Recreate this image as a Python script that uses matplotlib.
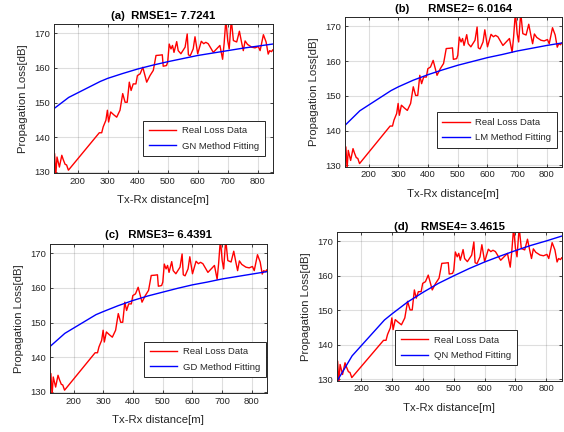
import matplotlib
matplotlib.use("Agg")
import matplotlib.pyplot as plt

plt.rcParams['font.family'] = ['Liberation Sans', 'DejaVu Sans']

# Measured path loss data (shared by all panels)
dist = [120, 123, 127, 131, 139, 147, 152, 158, 163, 169,
        272, 280, 285, 294, 299, 303, 310, 320, 330, 341,
        350, 358, 365, 372, 378, 385, 394, 399, 408, 417,
        430, 441, 452, 461, 474, 482, 485, 496, 500, 505,
        511, 516, 521, 530, 535, 544, 558, 565, 569, 575,
        585, 591, 600, 612, 620, 627, 635, 652, 674, 683,
        688, 694, 700, 705, 712, 719, 730, 739, 746, 752,
        758, 766, 780, 791, 802, 808, 819, 828, 835, 840,
        846, 850]
loss = [131.4, 135.3, 129.0, 134.3, 131.4, 134.8, 133.5, 132.2, 132.0, 130.5,
        141.3, 141.3, 143.0, 144.9, 147.8, 144.4, 147.3, 146.5, 145.8, 147.8,
        152.6, 150.1, 150.1, 155.9, 153.5, 155.4, 155.4, 157.8, 158.3, 160.2,
        155.9, 157.8, 159.3, 163.6, 163.7, 163.8, 160.5, 160.7, 161.7, 166.9,
        165.5, 166.5, 164.5, 167.6, 165.0, 164.1, 166.0, 169.8, 163.8, 163.5,
        165.5, 169.0, 164.1, 167.7, 167.0, 167.4, 167.0, 164.5, 166.5, 162.5,
        167.0, 174.0, 167.9, 165.5, 174.0, 167.9, 167.5, 170.6, 167.5, 165.0,
        167.8, 166.8, 166.0, 165.8, 166.2, 165.0, 169.6, 167.5, 164.0, 165.0,
        164.7, 165.2]

# Fitted curves
fit_x = [120, 170, 275, 300, 350, 400, 450, 500, 550, 600, 650, 700, 750, 800, 850]
fit_gn = [148.2, 151.5, 156.1, 157.0, 158.4, 159.7, 160.8, 161.8, 162.7, 163.6, 164.3, 165.0, 165.7, 166.3, 166.9]
fit_lm = [141.5, 145.7, 151.5, 152.6, 154.5, 156.1, 157.5, 158.8, 159.9, 161.0, 161.9, 162.9, 163.7, 164.5, 165.2]
fit_gd = [143.1, 146.9, 152.3, 153.2, 154.9, 156.4, 157.7, 158.8, 159.9, 160.9, 161.7, 162.6, 163.3, 164.0, 164.7]
fit_qn = [129.3, 136.8, 147.2, 149.0, 152.4, 155.2, 157.8, 160.0, 162.1, 164.0, 165.7, 167.3, 168.8, 170.1, 171.5]

titles = ["(a)  RMSE1= 7.7241", "(b)      RMSE2= 6.0164",
          "(c)   RMSE3= 6.4391", "(d)    RMSE4= 3.4615"]
fit_labels = ["GN Method Fitting", "LM Method Fitting",
              "GD Method Fitting", "QN Method Fitting"]
fits = [fit_gn, fit_lm, fit_gd, fit_qn]

W, H = 564, 432
# axes boxes in pixels: left, top, right, bottom
boxes = [(53.7, 24.3, 272.7, 173.3),
         (345.0, 17.3, 561.7, 166.7),
         (50.0, 244.3, 266.7, 393.3),
         (336.7, 232.3, 561.7, 380.7)]
legend_pos = [(143, 120.7), (436.7, 112.3), (144.3, 341.7), (395, 330)]
title_pads = [4.0, 4.0, 4.5, 2.0]

fig = plt.figure(figsize=(W / 100, H / 100), dpi=100)
for i in range(4):
    l, t, r, b = boxes[i]
    ax = fig.add_axes([l / W, 1 - b / H, (r - l) / W, (b - t) / H])
    ax.plot(dist, loss, color='red', lw=1.0, label='Real Loss Data')
    ax.plot(fit_x, fits[i], color='blue', lw=1.0, label=fit_labels[i])
    ax.set_xlim(120, 850)
    ax.set_ylim(129.6, 172.6)
    ax.set_xticks([200, 300, 400, 500, 600, 700, 800])
    ax.set_yticks([130, 140, 150, 160, 170])
    ax.grid(True, color='#262626', alpha=0.15, lw=0.8)
    ax.set_axisbelow(True)
    ax.tick_params(direction='in', length=2.5, width=0.6, labelsize=6.8,
                   colors='#262626', top=True, right=True, pad=2.5)
    for s in ax.spines.values():
        s.set_color('#262626')
        s.set_linewidth(0.7)
    ax.set_xlabel('Tx-Rx distance[m]', fontsize=8.2, color='#262626', labelpad=7)
    ax.set_ylabel('Propagation Loss[dB]', fontsize=8.2, color='#262626', labelpad=4.5)
    ax.set_title(titles[i], fontsize=8.2, fontweight='bold', pad=title_pads[i])
    lx, ly = legend_pos[i]
    leg = ax.legend(loc='upper left', bbox_to_anchor=(lx / W, 1 - ly / H),
                    bbox_transform=fig.transFigure, borderaxespad=0,
                    fontsize=6.8, fancybox=False, framealpha=1,
                    edgecolor='#262626', handlelength=2.9, handletextpad=0.6,
                    borderpad=0.6, labelspacing=0.65)
    leg.get_frame().set_linewidth(0.7)
    for txt in leg.get_texts():
        txt.set_color('#262626')

fig.savefig('out.png', dpi=100)
